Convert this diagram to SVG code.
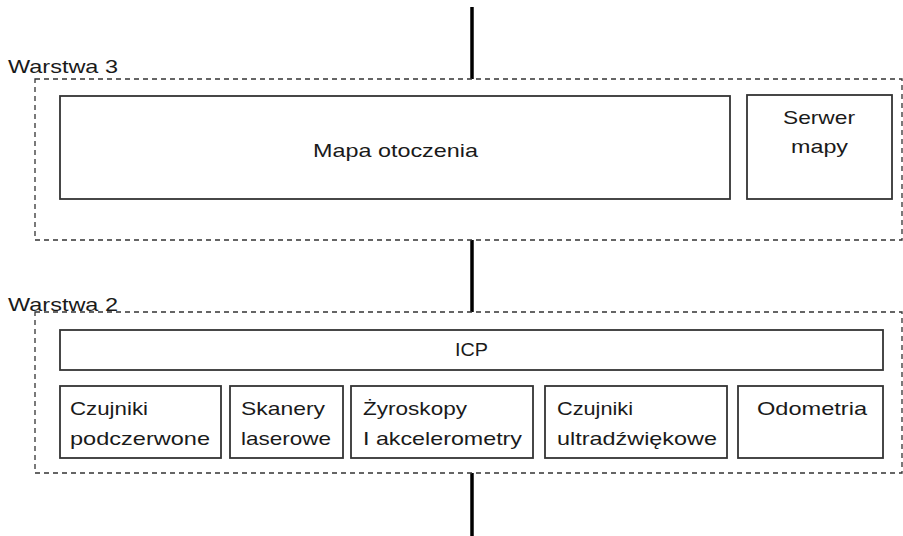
<svg xmlns="http://www.w3.org/2000/svg" width="903" height="536" viewBox="0 0 903 536">
<style>
.layer{fill:none;stroke:#333;stroke-width:1.3;stroke-dasharray:5 4}
.box{fill:#fff;stroke:#333;stroke-width:1.8}
text{font-family:"Liberation Sans",Arial,sans-serif;font-size:19px;fill:#1a1a1a}
.conn{stroke:#000;stroke-width:3.5}
</style>
<rect width="903" height="536" fill="#fff"/>
<g id="connectors">
<line class="conn" x1="472" y1="7" x2="472" y2="79"/>
<line class="conn" x1="472" y1="240" x2="472" y2="312"/>
<line class="conn" x1="472" y1="473" x2="472" y2="536"/>
</g>
<g id="warstwa3">
<rect class="layer" x="35" y="79" width="867" height="161"/>
<text x="8" y="73" textLength="110" lengthAdjust="spacingAndGlyphs">Warstwa 3</text>
</g>
<g id="mapa">
<rect class="box" x="60" y="96" width="670" height="103"/>
<text x="313" y="157" textLength="165" lengthAdjust="spacingAndGlyphs">Mapa otoczenia</text>
</g>
<g id="serwer">
<rect class="box" x="747" y="95" width="145" height="104"/>
<text x="783" y="124" textLength="72" lengthAdjust="spacingAndGlyphs">Serwer</text>
<text x="791" y="153" textLength="57" lengthAdjust="spacingAndGlyphs">mapy</text>
</g>
<g id="warstwa2">
<rect class="layer" x="35" y="312" width="867" height="161"/>
<text x="8" y="311" textLength="110" lengthAdjust="spacingAndGlyphs">Warstwa 2</text>
</g>
<g id="icp">
<rect class="box" x="60" y="330" width="823" height="40"/>
<text x="455" y="356" textLength="33" lengthAdjust="spacingAndGlyphs">ICP</text>
</g>
<g id="podczerwone">
<rect class="box" x="60" y="386" width="161" height="72"/>
<text x="70" y="415" textLength="78" lengthAdjust="spacingAndGlyphs">Czujniki</text>
<text x="70" y="445" textLength="140" lengthAdjust="spacingAndGlyphs">podczerwone</text>
</g>
<g id="skanery">
<rect class="box" x="230" y="386" width="113" height="72"/>
<text x="241" y="415" textLength="84" lengthAdjust="spacingAndGlyphs">Skanery</text>
<text x="241" y="445" textLength="90" lengthAdjust="spacingAndGlyphs">laserowe</text>
</g>
<g id="zyroskopy">
<rect class="box" x="351" y="386" width="182" height="72"/>
<text x="363" y="415" textLength="104" lengthAdjust="spacingAndGlyphs">Żyroskopy</text>
<text x="363" y="445" textLength="159" lengthAdjust="spacingAndGlyphs">I akcelerometry</text>
</g>
<g id="ultradzwiekowe">
<rect class="box" x="545" y="386" width="182" height="72"/>
<text x="557" y="415" textLength="76" lengthAdjust="spacingAndGlyphs">Czujniki</text>
<text x="557" y="445" textLength="160" lengthAdjust="spacingAndGlyphs">ultradźwiękowe</text>
</g>
<g id="odometria">
<rect class="box" x="738" y="386" width="145" height="72"/>
<text x="757" y="415" textLength="110" lengthAdjust="spacingAndGlyphs">Odometria</text>
</g>
</svg>
